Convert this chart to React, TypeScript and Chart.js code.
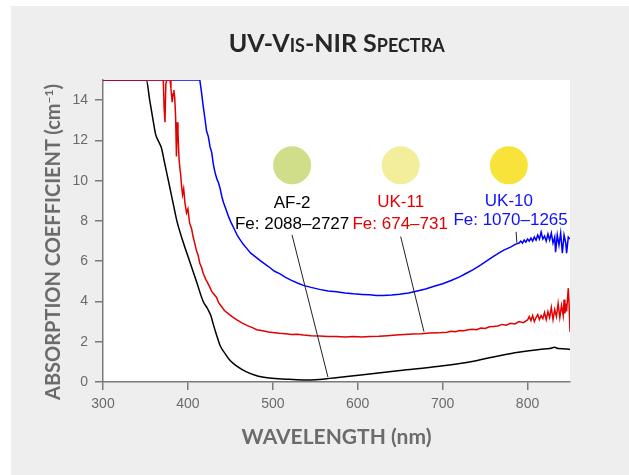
import React, { useEffect, useRef } from "react";
import { Chart, registerables } from "chart.js";

Chart.register(...registerables);

// ---------- data ----------
const wavelengthAF2 = [
  300, 351, 355, 359, 362, 366, 369, 372, 377, 382, 387, 394, 402, 410, 418, 423, 427, 430, 434, 438,
  444, 450, 458, 469, 482, 496, 515, 536, 555, 567, 590, 614, 650, 696, 730, 755, 785, 814, 826, 832,
  836, 849, 850,
];
const absorptionAF2 = [
  15, 15, 14, 13, 12.3, 11.9, 11.6, 11.0, 10.0, 9.0, 8.0, 7.0, 6.0, 5.0, 4.0, 3.65, 3.3, 2.85, 2.3, 1.8,
  1.4, 1.05, 0.78, 0.5, 0.3, 0.2, 0.14, 0.1, 0.13, 0.18, 0.28, 0.4, 0.57, 0.78, 0.98, 1.2, 1.45, 1.62, 1.66, 1.72,
  1.66, 1.63, 1.6,
];

const wavelengthUK11 = [
  300, 365, 371, 372, 373, 374, 375, 379, 380, 381.5, 382.5, 383.5, 384.5, 385.5, 386.5, 387.4, 388.3, 389.5,
  390.6, 391.5, 392.6, 393.7, 395, 396.5, 398.4, 400, 402, 404.4, 406.2, 408, 410.2, 412, 414, 416, 418, 421,
  423, 425.9, 428, 430, 433.8, 436, 439.6, 443, 447.4, 452, 457.3, 463, 470, 476, 481, 488, 495, 502, 508,
  515, 522, 529, 536, 545, 555, 565, 575, 585, 595, 605, 614, 625, 635, 645, 655, 665, 675, 685, 695, 700,
  705, 710, 715, 720, 725, 730, 735, 740, 745, 750, 755, 760, 765, 770, 775, 780, 785, 790, 795, 800, 802,
  804, 806, 808, 810, 812, 814, 816, 818, 820, 822, 824, 826, 828, 830, 832, 834, 836, 838, 840, 842, 843,
  844, 845, 846, 847, 848, 849, 850,
];
const absorptionUK11 = [
  15, 15, 15, 13.6, 12.9, 14.8, 15, 15, 14.6, 13.9, 14.3, 14.5, 14.1, 13.2, 11.2, 12.9, 12.4, 11.1,
  10.6, 10.3, 9.7, 9.3, 9.6, 8.9, 8.4, 8.6, 7.9, 7.6, 7.2, 6.9, 6.5, 6.3, 5.9, 5.7, 5.4, 5.1,
  4.95, 4.7, 4.5, 4.4, 4.2, 3.95, 3.75, 3.55, 3.4, 3.25, 3.1, 2.95, 2.8, 2.7, 2.6, 2.55, 2.48, 2.45, 2.42,
  2.4, 2.36, 2.37, 2.33, 2.3, 2.29, 2.26, 2.26, 2.24, 2.26, 2.24, 2.26, 2.27, 2.3, 2.33, 2.36, 2.38, 2.4, 2.43, 2.44, 2.46,
  2.47, 2.52, 2.5, 2.56, 2.55, 2.6, 2.62, 2.6, 2.68, 2.66, 2.74, 2.76, 2.78, 2.86, 2.82, 2.92, 2.88, 3.0, 2.95, 3.08, 3.25,
  3.05, 3.3, 3.0, 3.2, 3.35, 3.1, 3.3, 3.15, 3.45, 3.1, 3.5, 3.2, 3.7, 3.1, 3.6, 3.25, 3.9, 3.2, 3.8, 3.3, 4.1,
  3.4, 3.9, 3.5, 4.1, 4.66, 3.8, 2.5,
];

const wavelengthUK10 = [
  300, 414, 416, 418, 420, 422, 424, 426, 428, 430, 432, 434, 436, 438, 440, 442, 445, 448, 451, 454, 458,
  461, 465, 469, 474, 480, 486, 492, 496, 502, 508, 515, 522, 529, 536, 545, 555, 565, 575, 585, 595, 605,
  614, 622, 630, 640, 649, 660, 670, 680, 689, 700, 710, 720, 728, 736, 745, 752, 759, 766, 772, 780, 786,
  790, 792, 794, 796, 798, 800, 802, 804, 806, 808, 810, 812, 814, 816, 818, 820, 822, 824, 826, 828, 830,
  832, 833, 835, 837, 839, 841, 843, 845, 846, 848, 850,
];
const absorptionUK10 = [
  15, 15, 14.4, 13.7, 13.1, 12.45, 12.2, 11.7, 11.4, 10.8, 10.4, 10.1, 9.9, 9.6, 9.2, 8.9, 8.55, 8.2, 7.9, 7.65, 7.3,
  7.1, 6.85, 6.65, 6.4, 6.2, 6.0, 5.82, 5.7, 5.5, 5.38, 5.2, 5.05, 4.92, 4.8, 4.7, 4.6, 4.52, 4.48, 4.42, 4.38, 4.35,
  4.33, 4.3, 4.3, 4.32, 4.36, 4.42, 4.52, 4.62, 4.74, 4.88, 5.04, 5.22, 5.4, 5.58, 5.82, 6.02, 6.22, 6.4, 6.55, 6.7, 6.85,
  6.9, 7.0, 6.9, 7.05, 6.95, 7.1, 7.0, 7.15, 7.0, 7.2, 7.05, 7.3, 7.1, 7.45, 7.1, 7.25, 7.0, 7.35, 7.05, 7.4, 6.9,
  7.2, 6.45, 7.3, 6.8, 7.4, 6.4, 7.3, 6.9, 6.4, 7.2, 7.1,
];

const xTickValues = [300, 400, 500, 600, 700, 800];
const yTickValues = [0, 2, 4, 6, 8, 10, 12, 14];

const sampleNames = ["AF-2", "UK-11", "UK-10"];
const ironRanges = ["Fe: 2088–2727", "Fe: 674–731", "Fe: 1070–1265"];

// annotation anchors, in data units (wavelength, absorption)
const swatchX = [522.7, 650.6, 778];
const swatchY = [10.76, 10.76, 10.76];
const labelX = [522.7, 650.6, 778];
const nameY = [8.89, 8.92, 8.98];
const ironX = [522.7, 650.0, 780];
const ironY = [7.85, 7.85, 8.02];
const leaderFromX = [522.6, 650.6, 786.5];
const leaderFromY = [7.31, 7.22, 7.46];
const leaderToX = [565, 678, 787.4];
const leaderToY = [0.23, 2.5, 6.92];

// ---------- styles ----------
const seriesColors = { af2: "#000000", uk11: "#e30000", uk10: "#0000ff" };
const swatchColors = ["#d0de8a", "#f2ee9b", "#f8e33b"];
const labelColors = ["#000000", "#e30000", "#1010ff"];
const axisColor = "#7a7a7a";
const tickColor = "#6b6b6b";

const plotBackground = {
  id: "plotBackground",
  beforeDraw(chart: any) {
    const { ctx, chartArea } = chart;
    ctx.save();
    ctx.fillStyle = "#ffffff";
    ctx.fillRect(chartArea.left, chartArea.top, chartArea.right - chartArea.left, chartArea.bottom - chartArea.top);
    ctx.restore();
  },
};

const sampleAnnotations = {
  id: "sampleAnnotations",
  afterDatasetsDraw(chart: any) {
    const { ctx } = chart;
    const xs = chart.scales.x;
    const ys = chart.scales.y;
    ctx.save();
    for (let i = 0; i < sampleNames.length; i++) {
      ctx.strokeStyle = "#222222";
      ctx.lineWidth = 1;
      ctx.beginPath();
      ctx.moveTo(xs.getPixelForValue(leaderFromX[i]), ys.getPixelForValue(leaderFromY[i]));
      ctx.lineTo(xs.getPixelForValue(leaderToX[i]), ys.getPixelForValue(leaderToY[i]));
      ctx.stroke();

      ctx.fillStyle = swatchColors[i];
      ctx.beginPath();
      ctx.arc(xs.getPixelForValue(swatchX[i]), ys.getPixelForValue(swatchY[i]), 19, 0, Math.PI * 2);
      ctx.fill();

      ctx.font = '17px "Liberation Sans", Arial, sans-serif';
      ctx.textAlign = "center";
      ctx.textBaseline = "middle";
      ctx.fillStyle = labelColors[i];
      ctx.fillText(sampleNames[i], xs.getPixelForValue(labelX[i]), ys.getPixelForValue(nameY[i]));
      ctx.fillText(ironRanges[i], xs.getPixelForValue(ironX[i]), ys.getPixelForValue(ironY[i]));
    }
    ctx.restore();
  },
};

const toPoints = (xs: number[], ys: number[]) => xs.map((x, i) => ({ x, y: ys[i] }));

export default function App() {
  const canvasRef = useRef<HTMLCanvasElement>(null);

  useEffect(() => {
    const chart = new Chart(canvasRef.current as HTMLCanvasElement, {
      type: "line",
      data: {
        datasets: [
          {
            label: "UK-11",
            data: toPoints(wavelengthUK11, absorptionUK11),
            borderColor: seriesColors.uk11,
            borderWidth: 1.5,
            pointRadius: 0,
            tension: 0,
            fill: false,
          },
          {
            label: "UK-10",
            data: toPoints(wavelengthUK10, absorptionUK10),
            borderColor: seriesColors.uk10,
            borderWidth: 1.5,
            pointRadius: 0,
            tension: 0,
            fill: false,
          },
          {
            label: "AF-2",
            data: toPoints(wavelengthAF2, absorptionAF2),
            borderColor: seriesColors.af2,
            borderWidth: 1.5,
            pointRadius: 0,
            cubicInterpolationMode: "monotone",
            fill: false,
          },
        ],
      },
      options: {
        responsive: false,
        animation: false,
        devicePixelRatio: 1,
        layout: { padding: { left: 0, top: 80, right: 59, bottom: 0 } },
        plugins: {
          legend: { display: false },
          tooltip: { enabled: false },
          title: { display: false },
        },
        scales: {
          x: {
            type: "linear",
            min: 300,
            max: 850,
            afterBuildTicks: (s: any) => {
              s.ticks = xTickValues.map((v) => ({ value: v }));
            },
            afterFit: (s: any) => {
              s.height = 93;
            },
            ticks: {
              color: tickColor,
              font: { family: '"Liberation Sans", Arial, sans-serif', size: 14 },
              padding: 6,
              maxRotation: 0,
              autoSkip: false,
            },
            grid: { display: true, drawOnChartArea: false, drawTicks: true, tickLength: 8, color: axisColor, lineWidth: 1.5 },
            border: { display: true, color: axisColor, width: 1.5 },
            title: {
              display: true,
              text: "WAVELENGTH (nm)",
              color: "#6b6b6b",
              font: { family: "Lato, sans-serif", weight: "bold", size: 21 },
              padding: { top: 0, bottom: 25 },
            },
          },
          y: {
            type: "linear",
            min: 0,
            max: 15,
            afterBuildTicks: (s: any) => {
              s.ticks = yTickValues.map((v) => ({ value: v }));
            },
            afterFit: (s: any) => {
              s.width = 103;
            },
            ticks: {
              color: tickColor,
              font: { family: '"Liberation Sans", Arial, sans-serif', size: 14 },
              padding: 7,
              autoSkip: false,
            },
            grid: { display: true, drawOnChartArea: false, drawTicks: true, tickLength: 8, color: axisColor, lineWidth: 1.5 },
            border: { display: true, color: axisColor, width: 1.5 },
          },
        },
      } as any,
      plugins: [plotBackground, sampleAnnotations],
    });
    return () => chart.destroy();
  }, []);

  return (
    <div style={{ position: "fixed", left: 0, top: 0, width: 629, height: 475, background: "#ffffff", overflow: "hidden" }}>
      <div style={{ position: "absolute", left: 11, top: 6, width: 618, height: 469, background: "#eeeeee" }} />
      <canvas
        ref={canvasRef}
        width={629}
        height={475}
        style={{ position: "absolute", left: 0, top: 0, width: 629, height: 475 }}
      />
      <div
        style={{
          position: "absolute",
          left: 336.7,
          top: 29.5,
          transform: "translateX(-50%)",
          fontFamily: "Lato, sans-serif",
          fontWeight: 700,
          fontSize: 25,
          lineHeight: "25px",
          fontVariant: "small-caps",
          color: "#262626",
          whiteSpace: "nowrap",
        }}
      >
        UV-Vis-NIR Spectra
      </div>
      <div
        style={{
          position: "absolute",
          left: 52,
          top: 241.5,
          transform: "translate(-50%, -50%) rotate(-90deg)",
          fontFamily: "Lato, sans-serif",
          fontWeight: 700,
          fontSize: 20,
          lineHeight: "22px",
          color: "#6b6b6b",
          whiteSpace: "nowrap",
        }}
      >
        ABSORPTION COEFFICIENT (cm<sup style={{ fontSize: "0.6em", verticalAlign: "0.6em", lineHeight: 0 }}>–1</sup>)
      </div>
    </div>
  );
}
